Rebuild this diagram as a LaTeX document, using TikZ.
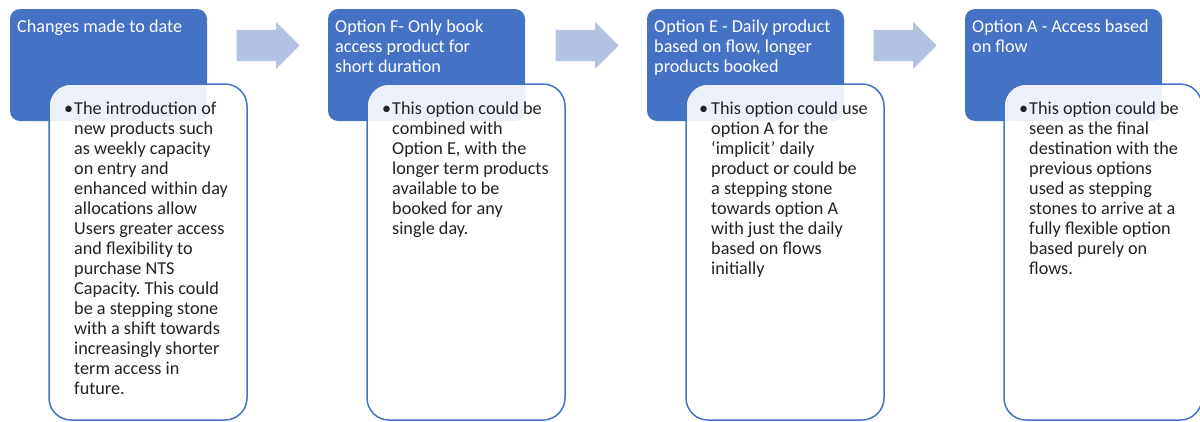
\documentclass[tikz,border=0pt]{standalone}
\usepackage{fontspec}
\setmainfont{Carlito}
\usetikzlibrary{positioning,shapes.arrows}
\definecolor{hdblue}{HTML}{4472C4}
\definecolor{arrblue}{HTML}{B4C2E2}
\definecolor{bodyink}{HTML}{222222}
\frenchspacing

\begin{document}
\begin{tikzpicture}[x=1pt,y=-1pt,
  every node/.style={font=\fontsize{18.2}{20}\selectfont},
  headbox/.style={fill=hdblue, rounded corners=10pt, minimum width=197pt, minimum height=112pt, inner sep=0pt},
  bodybox/.style={draw=hdblue, line width=1.5pt, fill=white, fill opacity=0.9, rounded corners=22pt, minimum width=198pt, minimum height=336pt, inner sep=0pt},
  headtext/.style={anchor=north west, inner sep=0pt, text=white, align=left},
  bodytext/.style={anchor=north west, inner sep=0pt, text=bodyink, align=left},
  flowarrow/.style={single arrow, fill=arrblue, anchor=tip, inner xsep=0pt, inner ysep=15.5pt, minimum height=63pt, single arrow head extend=8pt, single arrow head indent=0pt}
]
\useasboundingbox (0,0) rectangle (1200,421);

% Column 1: changes made to date
\node[headbox] (hd1) at (108.5,65) {};
\node[bodybox] (bd1) at (148,252) {};
\node[headtext] (hdt1) at (17,20) {Changes made to date};
\node[bodytext] (bdt1) at (74,102) {\llap{•\hspace{1pt}}The introduction of\\
new products such\\ as weekly capacity\\ on entry and\\ enhanced within day\\
allocations allow\\ Users greater access\\ and flexibility to\\ purchase NTS\\
Capacity. This could\\ be a stepping stone\\ with a shift towards\\
increasingly shorter\\ term access in\\ future.};

% Column 2: option F
\node[headbox] (hd2) at (426.5,65) {};
\node[bodybox] (bd2) at (466,252) {};
\node[headtext] (hdt2) at (335,20) {Option F- Only book\\ access product for\\ short duration};
\node[bodytext] (bdt2) at (392,102) {\llap{•\hspace{1pt}}This option could be\\
combined with\\ Option E, with the\\ longer term products\\ available to be\\
booked for any\\ single day.};

% Column 3: option E
\node[headbox] (hd3) at (745.5,65) {};
\node[bodybox] (bd3) at (785,252) {};
\node[headtext] (hdt3) at (654,20) {Option E - Daily product\\ based on flow, longer\\ products booked};
\node[bodytext] (bdt3) at (711,102) {\llap{•\hspace{3pt}}This option could use\\
option A for the\\ ‘implicit’ daily\\ product or could be\\ a stepping stone\\
towards option A\\ with just the daily\\ based on flows\\ initially};

% Column 4: option A
\node[headbox] (hd4) at (1063.5,65) {};
\node[bodybox] (bd4) at (1103,252) {};
\node[headtext] (hdt4) at (972,20) {Option A - Access based\\ on flow};
\node[bodytext] (bdt4) at (1029,102) {\llap{•\hspace{1pt}}This option could be\\
seen as the final\\ destination with the\\ previous options\\ used as stepping\\
stones to arrive at a\\ fully flexible option\\ based purely on\\ flows.};

% Arrows between the stages
\node[flowarrow] (ar1) at (300,45.5) {};
\node[flowarrow] (ar2) at (619,45.5) {};
\node[flowarrow] (ar3) at (937,45.5) {};

\end{tikzpicture}
\end{document}
